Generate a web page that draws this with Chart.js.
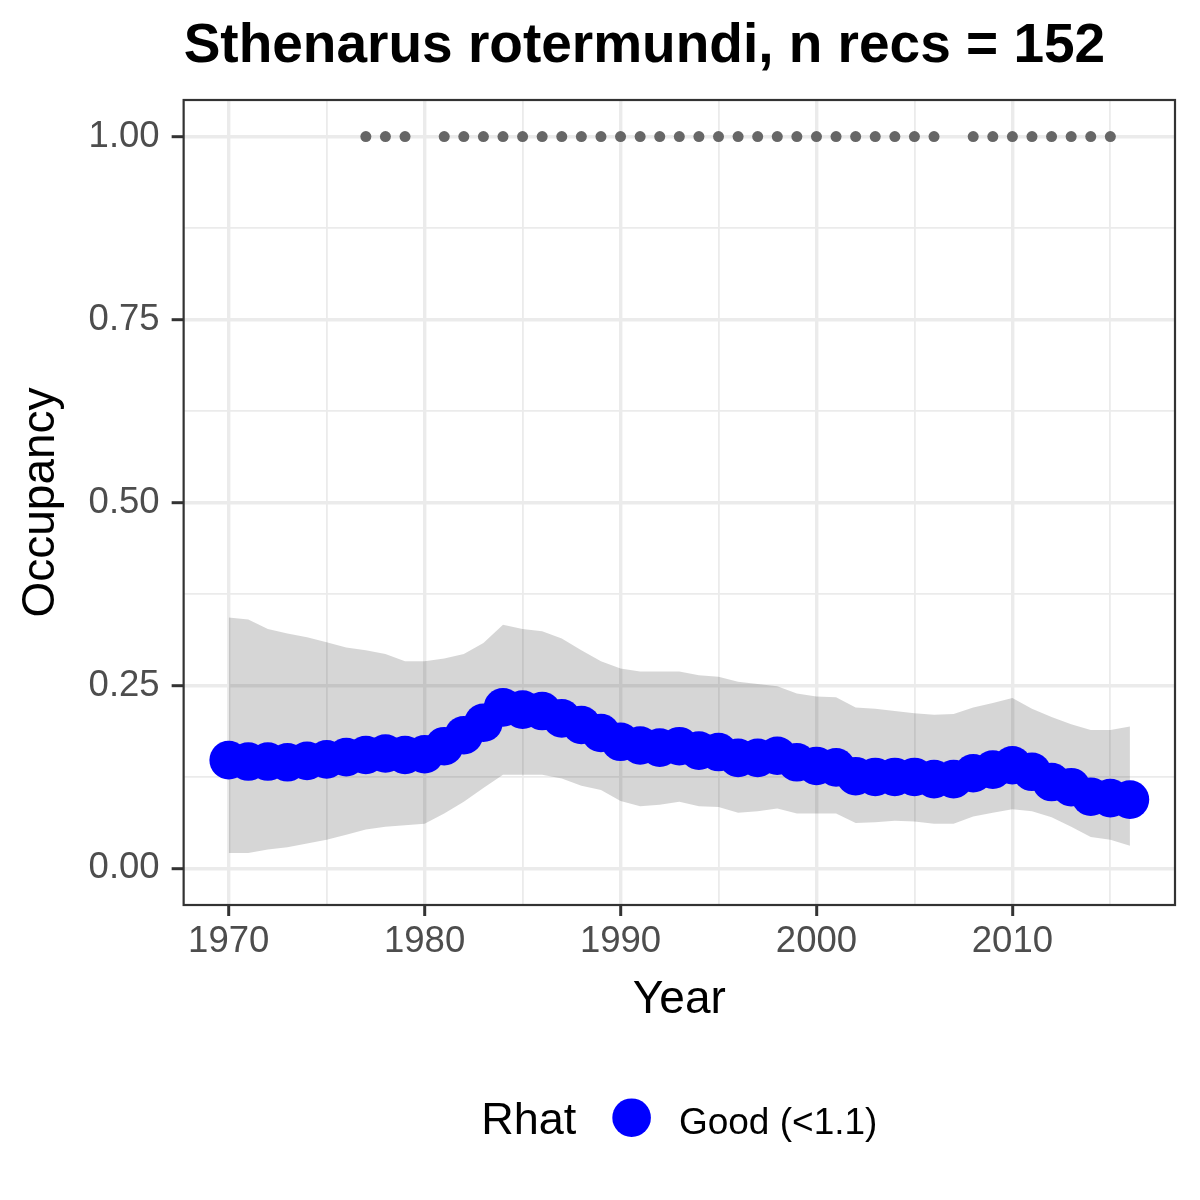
<!DOCTYPE html>
<html>
<head>
<meta charset="utf-8">
<title>Sthenarus rotermundi</title>
<script src="https://cdn.jsdelivr.net/npm/chart.js@4.4.1/dist/chart.umd.min.js"></script>
<style>
  html, body { margin: 0; padding: 0; background: #ffffff; }
</style>
</head>
<body>
<canvas id="chart" width="1200" height="1200"></canvas>
<script>
const years = [1970, 1971, 1972, 1973, 1974, 1975, 1976, 1977, 1978, 1979,
               1980, 1981, 1982, 1983, 1984, 1985, 1986, 1987, 1988, 1989,
               1990, 1991, 1992, 1993, 1994, 1995, 1996, 1997, 1998, 1999,
               2000, 2001, 2002, 2003, 2004, 2005, 2006, 2007, 2008, 2009,
               2010, 2011, 2012, 2013, 2014, 2015, 2016];

const occMean = [0.148, 0.146, 0.146, 0.145, 0.147, 0.149, 0.152, 0.155, 0.157, 0.155,
                 0.156, 0.167, 0.182, 0.199, 0.220, 0.217, 0.215, 0.205, 0.196, 0.185,
                 0.173, 0.168, 0.165, 0.167, 0.161, 0.159, 0.151, 0.151, 0.154, 0.145,
                 0.140, 0.138, 0.126, 0.125, 0.125, 0.125, 0.122, 0.122, 0.130, 0.135,
                 0.141, 0.132, 0.118, 0.111, 0.098, 0.096, 0.094];

const occUpper = [0.343, 0.340, 0.327, 0.321, 0.316, 0.309, 0.302, 0.298, 0.293, 0.283,
                  0.283, 0.287, 0.293, 0.308, 0.333, 0.327, 0.324, 0.314, 0.298, 0.283,
                  0.273, 0.269, 0.269, 0.269, 0.264, 0.262, 0.255, 0.252, 0.249, 0.239,
                  0.235, 0.234, 0.220, 0.218, 0.215, 0.212, 0.210, 0.211, 0.220, 0.226,
                  0.233, 0.218, 0.207, 0.197, 0.189, 0.189, 0.194];

const occLower = [0.021, 0.021, 0.026, 0.029, 0.034, 0.039, 0.046, 0.053, 0.057, 0.059,
                  0.061, 0.075, 0.091, 0.110, 0.128, 0.128, 0.128, 0.123, 0.113, 0.107,
                  0.092, 0.085, 0.087, 0.091, 0.085, 0.084, 0.076, 0.078, 0.082, 0.075,
                  0.075, 0.075, 0.062, 0.063, 0.065, 0.064, 0.061, 0.061, 0.071, 0.076,
                  0.081, 0.078, 0.070, 0.057, 0.043, 0.039, 0.031];

// years with at least one record (grey dots on top)
const recYears = [1977, 1978, 1979,
                  1981, 1982, 1983, 1984, 1985, 1986, 1987, 1988, 1989, 1990,
                  1991, 1992, 1993, 1994, 1995, 1996, 1997, 1998, 1999, 2000,
                  2001, 2002, 2003, 2004, 2005, 2006,
                  2008, 2009, 2010, 2011, 2012, 2013, 2014, 2015];
const recValue = recYears.map(() => 1);

const xTicks = [1970, 1975, 1980, 1985, 1990, 1995, 2000, 2005, 2010, 2015];
const yTicks = [0, 0.125, 0.25, 0.375, 0.5, 0.625, 0.75, 0.875, 1];

const titleText = 'Sthenarus rotermundi, n recs = 152';
const legendTitle = 'Rhat';
const legendLabel = 'Good (<1.1)';

const FONT = "'Liberation Sans', Arial, Helvetica, sans-serif";

function pares(xs, ys) {
    return xs.map((x, i) => ({ x: x, y: ys[i] }));
}

function isMajorX(v) { return v % 10 === 0; }
function isMajorY(v) { return Math.abs(v * 4 - Math.round(v * 4)) < 1e-9; }

// ggplot style box round the panel
const panelBorder = {
    id: 'panelBorder',
    afterDatasetsDraw(chart) {
        const a = chart.chartArea;
        const ctx = chart.ctx;
        ctx.save();
        ctx.strokeStyle = '#333333';
        ctx.lineWidth = 2.2;
        ctx.strokeRect(a.left, a.top, a.right - a.left, a.bottom - a.top);
        ctx.restore();
    }
};

// legend row: "Rhat"  (blue dot)  Good (<1.1)
const rhatLegend = {
    id: 'rhatLegend',
    afterDraw(chart) {
        const a = chart.chartArea;
        const ctx = chart.ctx;
        const cx = (a.left + a.right) / 2;
        const baseY = 1134;
        const r = 19.3;
        ctx.save();
        ctx.font = '45px ' + FONT;
        const wR = ctx.measureText(legendTitle).width;
        ctx.font = '37px ' + FONT;
        const wG = ctx.measureText(legendLabel).width;
        const total = wR + 36 + 2 * r + 28 + wG;
        let x = cx - total / 2;
        ctx.fillStyle = '#000000';
        ctx.textBaseline = 'alphabetic';
        ctx.textAlign = 'left';
        ctx.font = '45px ' + FONT;
        ctx.fillText(legendTitle, x, baseY);
        x += wR + 36;
        ctx.fillStyle = '#0000FF';
        ctx.beginPath();
        ctx.arc(x + r, 1117.7, r, 0, Math.PI * 2);
        ctx.fill();
        x += 2 * r + 28;
        ctx.fillStyle = '#000000';
        ctx.font = '37px ' + FONT;
        ctx.fillText(legendLabel, x, baseY);
        ctx.restore();
    }
};

new Chart(document.getElementById('chart'), {
    type: 'line',
    data: {
        datasets: [
            {
                label: legendLabel,
                data: pares(years, occMean),
                showLine: false,
                pointRadius: 19.3,
                pointHoverRadius: 19.3,
                pointBackgroundColor: '#0000FF',
                pointBorderWidth: 0,
                borderColor: '#0000FF'
            },
            {
                label: 'records',
                data: pares(recYears, recValue),
                showLine: false,
                pointRadius: 5.5,
                pointHoverRadius: 5.5,
                pointBackgroundColor: '#666666',
                pointBorderWidth: 0,
                borderColor: '#666666'
            },
            {
                label: 'upper',
                data: pares(years, occUpper),
                borderWidth: 0,
                borderColor: 'rgba(0,0,0,0)',
                pointRadius: 0,
                tension: 0,
                fill: '+1',
                backgroundColor: 'rgba(0,0,0,0.16)'
            },
            {
                label: 'lower',
                data: pares(years, occLower),
                borderWidth: 0,
                borderColor: 'rgba(0,0,0,0)',
                pointRadius: 0,
                tension: 0,
                fill: false
            }
        ]
    },
    options: {
        responsive: false,
        devicePixelRatio: 1,
        animation: false,
        events: [],
        layout: { padding: { left: 0, right: 25, top: 0, bottom: 172 } },
        plugins: {
            legend: { display: false },
            tooltip: { enabled: false },
            title: {
                display: true,
                text: titleText,
                align: 'start',
                fullSize: false,
                color: '#000000',
                font: { family: FONT, size: 55, weight: 'bold' },
                padding: { top: 14, bottom: 20 }
            }
        },
        scales: {
            x: {
                type: 'linear',
                min: 1967.7,
                max: 2018.3,
                afterBuildTicks: s => { s.ticks = xTicks.map(v => ({ value: v })); },
                border: { display: false },
                grid: {
                    color: '#EBEBEB',
                    lineWidth: c => isMajorX(c.tick.value) ? 3.4 : 1.8,
                    drawTicks: true,
                    tickLength: 11,
                    tickWidth: 3,
                    tickColor: c => isMajorX(c.tick.value) ? '#333333' : 'rgba(0,0,0,0)'
                },
                ticks: {
                    autoSkip: false,
                    maxRotation: 0,
                    padding: 4,
                    color: '#4D4D4D',
                    font: { family: FONT, size: 36.5 },
                    callback: v => isMajorX(v) ? String(v) : ''
                },
                title: {
                    display: true,
                    text: 'Year',
                    color: '#000000',
                    font: { family: FONT, size: 46 },
                    padding: { top: 5, bottom: 0 }
                }
            },
            y: {
                type: 'linear',
                min: -0.05,
                max: 1.05,
                afterBuildTicks: s => { s.ticks = yTicks.map(v => ({ value: v })); },
                border: { display: false },
                grid: {
                    color: '#EBEBEB',
                    lineWidth: c => isMajorY(c.tick.value) ? 3.4 : 1.8,
                    drawTicks: true,
                    tickLength: 12,
                    tickWidth: 3,
                    tickColor: c => isMajorY(c.tick.value) ? '#333333' : 'rgba(0,0,0,0)'
                },
                ticks: {
                    autoSkip: false,
                    padding: 12,
                    color: '#4D4D4D',
                    font: { family: FONT, size: 36.5 },
                    callback: v => isMajorY(v) ? v.toFixed(2) : ''
                },
                title: {
                    display: true,
                    text: 'Occupancy',
                    color: '#000000',
                    font: { family: FONT, size: 46 },
                    padding: { top: 13.4, bottom: 8 }
                }
            }
        }
    },
    plugins: [panelBorder, rhatLegend]
});
</script>
</body>
</html>
